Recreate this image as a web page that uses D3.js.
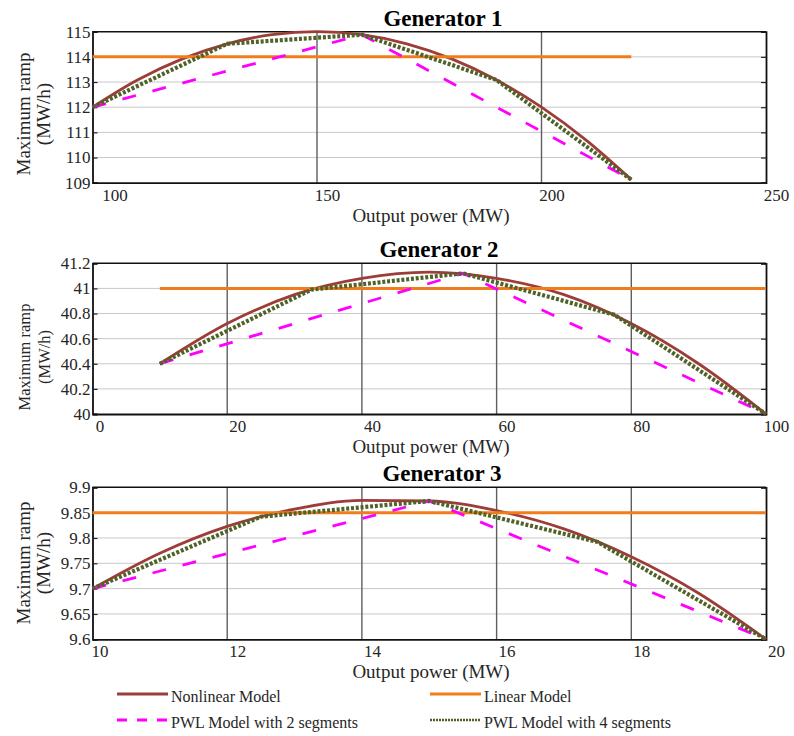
<!DOCTYPE html>
<html>
<head>
<meta charset="utf-8">
<script src="https://cdn.jsdelivr.net/npm/d3@7/dist/d3.min.js"></script>
<style>
body { margin: 0; background: #fff; }
text { font-family: "Liberation Serif", "Times New Roman", serif; }
</style>
</head>
<body>
<div id="graph"></div>
<script>
const width = 794, height = 736;
const left = 92.5, right = 766;

// Generator 1
const g1Power = [100, 110, 120, 130, 140, 150, 160, 170, 180, 190, 200, 210, 220];
const g1Nonlinear = [112.0, 113.08, 113.92, 114.52, 114.88, 115.0, 114.88, 114.52, 113.92, 113.08, 112.0, 110.68, 109.12];
const g1LinearPower = [100, 220];
const g1Linear = [114, 114];
const g1Pwl2Power = [100, 160, 220];
const g1Pwl2 = [112.0, 114.88, 109.12];
const g1Pwl4Power = [100, 130, 160, 190, 220];
const g1Pwl4 = [112.0, 114.52, 114.88, 113.08, 109.12];
const g1XTicks = [100, 150, 200, 250];
const g1YTicks = [109, 110, 111, 112, 113, 114, 115];

// Generator 2
const g2Power = [10, 20, 30, 40, 50, 60, 70, 80, 90, 100];
const g2Nonlinear = [40.40, 40.72, 40.95, 41.08, 41.13, 41.08, 40.95, 40.72, 40.40, 40.0];
const g2LinearPower = [10, 100];
const g2Linear = [41, 41];
const g2Pwl2Power = [10, 55, 100];
const g2Pwl2 = [40.40, 41.12, 40.0];
const g2Pwl4Power = [10, 32.5, 55, 77.5, 100];
const g2Pwl4 = [40.40, 40.99, 41.12, 40.79, 40.0];
const g2XTicks = [0, 20, 40, 60, 80, 100];
const g2YTicks = [40, 40.2, 40.4, 40.6, 40.8, 41, 41.2];

// Generator 3
const g3Power = [10, 11, 12, 13, 14, 15, 16, 17, 18, 19, 20];
const g3Nonlinear = [9.700, 9.770, 9.823, 9.857, 9.874, 9.873, 9.854, 9.818, 9.763, 9.691, 9.600];
const g3LinearPower = [10, 20];
const g3Linear = [9.85, 9.85];
const g3Pwl2Power = [10, 15, 20];
const g3Pwl2 = [9.700, 9.873, 9.600];
const g3Pwl4Power = [10, 12.5, 15, 17.5, 20];
const g3Pwl4 = [9.700, 9.842, 9.873, 9.792, 9.600];
const g3XTicks = [10, 12, 14, 16, 18, 20];
const g3YTicks = [9.6, 9.65, 9.7, 9.75, 9.8, 9.85, 9.9];

const titles = ["Generator 1", "Generator 2", "Generator 3"];
const legendNames = ["Nonlinear Model", "Linear Model", "PWL Model with 2 segments", "PWL Model with 4 segments"];

const zip = (xs, ys) => xs.map((x, i) => [x, ys[i]]);

const panels = [
  { title: titles[0], xTicks: g1XTicks, yTicks: g1YTicks,
    nonlinear: zip(g1Power, g1Nonlinear), linear: zip(g1LinearPower, g1Linear),
    pwl2: zip(g1Pwl2Power, g1Pwl2), pwl4: zip(g1Pwl4Power, g1Pwl4),
    top: 31.7, bottom: 182.7, titleX: 443, yLabelY: 114, yLabelSize: 19, firstDx: 22 },
  { title: titles[1], xTicks: g2XTicks, yTicks: g2YTicks,
    nonlinear: zip(g2Power, g2Nonlinear), linear: zip(g2LinearPower, g2Linear),
    pwl2: zip(g2Pwl2Power, g2Pwl2), pwl4: zip(g2Pwl4Power, g2Pwl4),
    top: 263.3, bottom: 414, titleX: 439, yLabelY: 357, yLabelSize: 16.5, firstDx: 7 },
  { title: titles[2], xTicks: g3XTicks, yTicks: g3YTicks,
    nonlinear: zip(g3Power, g3Nonlinear), linear: zip(g3LinearPower, g3Linear),
    pwl2: zip(g3Pwl2Power, g3Pwl2), pwl4: zip(g3Pwl4Power, g3Pwl4),
    top: 487.3, bottom: 639.3, titleX: 442, yLabelY: 563, yLabelSize: 19, firstDx: 7 }
];

const colors = { nonlinear: "#9c3d38", linear: "#f07c1c", pwl2: "#ff00ff", pwl4: "#4f6228" };
const serif = "'Liberation Serif', 'Times New Roman', serif";

let svg = d3.select("#graph").
append("svg").
attr("width", width).
attr("height", height);

panels.forEach(p => {
  const x = d3.scaleLinear().
  domain([p.xTicks[0], p.xTicks[p.xTicks.length - 1]]).
  range([left, right]);
  const y = d3.scaleLinear().
  domain([p.yTicks[0], p.yTicks[p.yTicks.length - 1]]).
  range([p.bottom, p.top]);

  const g = svg.append("g");

  // grid
  g.selectAll(".hgrid").
  data(p.yTicks.slice(1, -1)).
  enter().
  append("line").
  attr("x1", left).attr("x2", right).
  attr("y1", d => y(d)).attr("y2", d => y(d)).
  attr("stroke", "#c8c8c8").
  attr("stroke-width", 1);
  g.selectAll(".vgrid").
  data(p.xTicks.slice(1, -1)).
  enter().
  append("line").
  attr("x1", d => x(d)).attr("x2", d => x(d)).
  attr("y1", p.top).attr("y2", p.bottom).
  attr("stroke", "#5e5e5e").
  attr("stroke-width", 1.4);

  // axes
  const yAxis = g.append("g").
  attr("transform", "translate(" + left + ",0)").
  call(d3.axisLeft(y).tickValues(p.yTicks).tickSize(-5).tickPadding(2).tickFormat(d3.format("")));
  const xAxis = g.append("g").
  attr("transform", "translate(0," + p.bottom + ")").
  call(d3.axisBottom(x).tickValues(p.xTicks).tickSize(0).tickPadding(6).tickFormat(d3.format("")));
  g.append("g").
  attr("transform", "translate(" + right + ",0)").
  call(d3.axisRight(y).tickValues(p.yTicks).tickSize(-5).tickFormat(""));
  g.append("line").
  attr("x1", left).attr("x2", right).
  attr("y1", p.top).attr("y2", p.top).
  attr("stroke", "#111").attr("stroke-width", 1.5);

  g.selectAll(".domain").attr("stroke", "#111").attr("stroke-width", 1.8);
  g.selectAll(".tick line").attr("stroke", "#222").attr("stroke-width", 1.2);
  [yAxis, xAxis].forEach(a => {
    a.attr("font-family", serif).attr("font-size", 17);
    a.selectAll("text").
    attr("fill", "#262626").
    style("font-family", serif);
  });
  xAxis.selectAll("text").attr("dx", (d, i) => i === 0 ? p.firstDx : 10);

  // series
  const line = d3.line().x(d => x(d[0])).y(d => y(d[1]));
  g.append("path").
  attr("d", line.curve(d3.curveMonotoneX)(p.nonlinear)).
  attr("fill", "none").
  attr("stroke", colors.nonlinear).
  attr("stroke-width", 2.8);
  line.curve(d3.curveLinear);
  g.append("path").
  attr("d", line(p.linear)).
  attr("fill", "none").
  attr("stroke", colors.linear).
  attr("stroke-width", 3);
  g.append("path").
  attr("d", line(p.pwl2)).
  attr("fill", "none").
  attr("stroke", colors.pwl2).
  attr("stroke-width", 2.8).
  attr("stroke-dasharray", "14,17");
  g.append("path").
  attr("d", line(p.pwl4)).
  attr("fill", "none").
  attr("stroke", colors.pwl4).
  attr("stroke-width", 4.2).
  attr("stroke-dasharray", "3,1.8");

  // labels
  g.append("text").
  attr("x", p.titleX).
  attr("y", p.top - 6).
  attr("text-anchor", "middle").
  attr("font-size", 23).
  attr("font-weight", "bold").
  attr("fill", "#000").
  text(p.title);
  g.append("text").
  attr("x", 431).
  attr("y", p.bottom + 39).
  attr("text-anchor", "middle").
  attr("font-size", 19).
  attr("fill", "#262626").
  text("Output power (MW)");
  g.append("text").
  attr("transform", "translate(30," + p.yLabelY + ") rotate(-90)").
  attr("text-anchor", "middle").
  attr("font-size", p.yLabelSize).
  attr("fill", "#262626").
  text("Maximum ramp");
  g.append("text").
  attr("transform", "translate(50," + p.yLabelY + ") rotate(-90)").
  attr("text-anchor", "middle").
  attr("font-size", p.yLabelSize).
  attr("fill", "#262626").
  text("(MW/h)");
});

// legend
const legendItems = [
  { name: legendNames[0], color: colors.nonlinear, dash: null, w: 2.8, x: 117, y: 694 },
  { name: legendNames[1], color: colors.linear, dash: null, w: 3, x: 430, y: 694 },
  { name: legendNames[2], color: colors.pwl2, dash: "10,10", w: 2.8, x: 117, y: 720 },
  { name: legendNames[3], color: colors.pwl4, dash: "2,1", w: 2.5, x: 430, y: 720 }
];
const legend = svg.append("g");
legendItems.forEach(it => {
  legend.append("line").
  attr("x1", it.x).attr("x2", it.x + 51).
  attr("y1", it.y).attr("y2", it.y).
  attr("stroke", it.color).
  attr("stroke-width", it.w).
  attr("stroke-dasharray", it.dash);
  legend.append("text").
  attr("x", it.x + 54).
  attr("y", it.y + 7.5).
  attr("font-size", 16).
  attr("fill", "#262626").
  text(it.name);
});
</script>
</body>
</html>
